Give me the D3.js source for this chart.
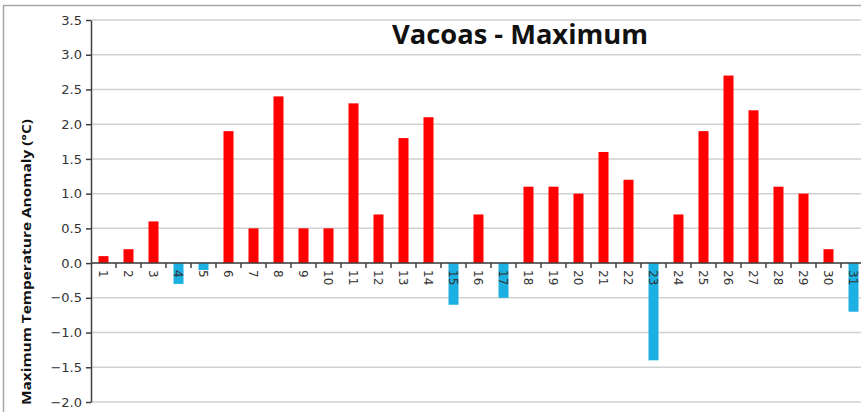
<!DOCTYPE html>
<html>
<head>
<meta charset="utf-8">
<script src="https://cdn.jsdelivr.net/npm/d3@7"></script>
<style>
  body { margin: 0; background: #fff; }
  svg { display: block; }
</style>
</head>
<body>
<div id="chart"></div>
<script>
const days = d3.range(1, 32).map(String)
const anomalies = [0.1, 0.2, 0.6, -0.3, -0.1, 1.9, 0.5, 2.4, 0.5, 0.5, 2.3, 0.7, 1.8, 2.1, -0.6, 0.7, -0.5, 1.1, 1.1, 1.0, 1.6, 1.2, -1.4, 0.7, 1.9, 2.7, 2.2, 1.1, 1.0, 0.2, -0.7]
const yTicks = [-2.0, -1.5, -1.0, -0.5, 0.0, 0.5, 1.0, 1.5, 2.0, 2.5, 3.0, 3.5]
const chartTitle = "Vacoas - Maximum"
const yTitle = "Maximum  Temperature Anomaly (°C)"

function createChart() {
  const W = 861, H = 412
  const left = 91, top = 20, bottom = 402
  const step = 25

  const svg = d3.select("#chart").append("svg")
    .attr("width", W)
    .attr("height", H)

  // outer frame
  svg.append("path")
    .attr("d", `M3.5,${H} V5.5 H${W}`)
    .attr("fill", "none")
    .attr("stroke", "#a6a6a6")
    .attr("stroke-width", 1.5)

  const x = d3.scaleBand()
    .domain(days)
    .range([left, left + step * days.length])
    .padding(0)

  const y = d3.scaleLinear()
    .domain([-2, 3.5])
    .range([bottom, top])

  // gridlines
  svg.append("g")
    .selectAll("line")
    .data(yTicks)
    .enter()
    .append("line")
    .attr("x1", left)
    .attr("x2", W)
    .attr("y1", (d) => y(d))
    .attr("y2", (d) => y(d))
    .attr("stroke", "#d0d0d0")
    .attr("stroke-width", 1.5)

  // bars
  svg.append("g")
    .selectAll("rect")
    .data(days.map((d, i) => ({ day: d, v: anomalies[i] })))
    .enter()
    .append("rect")
    .attr("x", (d) => x(d.day) + x.bandwidth() * 0.3)
    .attr("width", x.bandwidth() * 0.4)
    .attr("y", (d) => y(Math.max(0, d.v)))
    .attr("height", (d) => Math.abs(y(d.v) - y(0)))
    .attr("fill", (d) => d.v >= 0 ? "#ff0000" : "#1cb0e2")

  // y axis
  const yAxis = svg.append("g")
    .attr("transform", `translate(${left},0)`)
    .call(d3.axisLeft(y).tickValues(yTicks).tickFormat(d3.format(".1f")).tickSize(5).tickSizeOuter(0))
  yAxis.select(".domain").attr("stroke", "#404040").attr("stroke-width", 1.5)
  yAxis.selectAll(".tick line").attr("stroke", "#404040").attr("stroke-width", 1.5)
  yAxis.selectAll(".tick text")
    .attr("x", -9)
    .attr("fill", "#333")
    .style("font-family", "DejaVu Sans")
    .style("font-size", "13px")

  // x axis at zero, ticks between categories
  svg.append("line")
    .attr("x1", left)
    .attr("x2", W)
    .attr("y1", y(0))
    .attr("y2", y(0))
    .attr("stroke", "#404040")
    .attr("stroke-width", 1.5)

  svg.append("g")
    .selectAll("line")
    .data(days)
    .enter()
    .append("line")
    .attr("x1", (d) => x(d) + x.bandwidth())
    .attr("x2", (d) => x(d) + x.bandwidth())
    .attr("y1", y(0))
    .attr("y2", y(0) + 5)
    .attr("stroke", "#404040")
    .attr("stroke-width", 1.5)

  svg.append("g")
    .selectAll("text")
    .data(days)
    .enter()
    .append("text")
    .attr("transform", (d) => `translate(${x(d) + x.bandwidth() / 2},${y(0) + 7}) rotate(90)`)
    .attr("dy", "0.35em")
    .attr("fill", "#333")
    .style("font-family", "DejaVu Sans")
    .style("font-size", "12px")
    .text((d) => d)

  // titles
  svg.append("text")
    .attr("x", 520)
    .attr("y", 44)
    .attr("text-anchor", "middle")
    .style("font-family", "Open Sans")
    .style("font-weight", "bold")
    .style("font-size", "26px")
    .attr("textLength", 256)
    .attr("lengthAdjust", "spacingAndGlyphs")
    .attr("fill", "#111")
    .text(chartTitle)

  svg.append("text")
    .attr("transform", `translate(31,262) rotate(-90)`)
    .attr("text-anchor", "middle")
    .style("font-family", "Open Sans")
    .style("font-weight", "bold")
    .style("font-size", "12.5px")
    .attr("textLength", 286)
    .attr("lengthAdjust", "spacingAndGlyphs")
    .attr("fill", "#111")
    .text(yTitle)
}

createChart()
</script>
</body>
</html>
